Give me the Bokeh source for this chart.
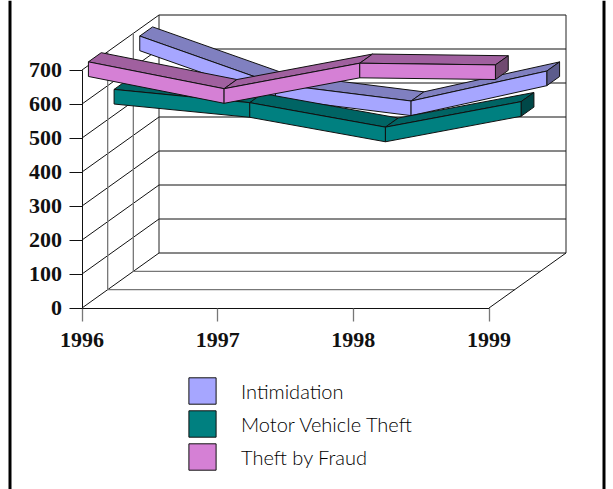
from bokeh.plotting import figure
from bokeh.models import Legend, LegendItem, FixedTicker, Range1d, Span
from bokeh.embed import file_html
from bokeh.resources import INLINE

years = [1996, 1997, 1998, 1999]
value_ticks = [0, 100, 200, 300, 400, 500, 600, 700]
intimidation = [657, 516, 466, 554]
motor_vehicle_theft = [554, 515, 443, 518]
theft_by_fraud = [689, 610, 685, 680]

series = [
    ("Intimidation", intimidation, 2, "#A6A6FF", "#8080C0", "#5C5C8C"),
    ("Motor Vehicle Theft", motor_vehicle_theft, 1, "#008080", "#006464", "#004848"),
    ("Theft by Fraud", theft_by_fraud, 0, "#D580D5", "#A0609F", "#704A70"),
]

PX_PER_YEAR = 135.67
PX_PER_UNIT = 0.34
DX = 77 / PX_PER_YEAR
DY = 55 / PX_PER_UNIT
RIBBON = 43.0
LANES = 3
BAR_DEPTH = 1 / 6


def px(year, depth):
    return year + depth * DX


def py(val, depth):
    return val + depth * DY


p = figure(
    width=613, height=489, output_backend="svg", toolbar_location=None,
    x_range=Range1d(1996 - 81.5 / PX_PER_YEAR, 1996 + 531.5 / PX_PER_YEAR),
    y_range=Range1d(-181.5 / PX_PER_UNIT, 307.5 / PX_PER_UNIT),
    min_border=0, outline_line_color=None, background_fill_color=None, border_fill_color=None,
)
p.grid.visible = False

p.add_layout(Span(location=9.5, location_units="canvas", dimension="height", line_color="#000000", line_width=3))
p.add_layout(Span(location=603.5, location_units="canvas", dimension="height", line_color="#000000", line_width=3))

x0, x1 = years[0], years[-1]
vmax = value_ticks[-1]

for v in value_ticks:
    p.line([px(x0, 0), px(x0, 1), px(x1, 1)], [py(v, 0), py(v, 1), py(v, 1)], line_color="#111111", line_width=1)
for x in (x0, x1):
    p.line([px(x, 1), px(x, 1)], [py(0, 1), py(vmax, 1)], line_color="#222222", line_width=1)
for k in (1, 2):
    d = k / LANES
    p.line([px(x0, d), px(x0, d)], [py(0, d), py(vmax, d)], line_color="#777777", line_width=1.3)
    p.line([px(x0, d), px(x1, d)], [py(0, d), py(0, d)], line_color="#777777", line_width=1.3)
p.line([px(x1, 0), px(x1, 1)], [py(0, 0), py(0, 1)], line_color="#111111", line_width=1)

fronts = {}
for name, vals, lane, front_c, top_c, side_c in series:
    d0 = (lane + 0.25) / LANES
    d1 = d0 + BAR_DEPTH
    hi = [v + RIBBON / 2 for v in vals]
    lo = [v - RIBBON / 2 for v in vals]
    tx, ty, fx, fy = [], [], [], []
    for i in range(len(years) - 1):
        a, b = years[i], years[i + 1]
        tx.append([px(a, d0), px(b, d0), px(b, d1), px(a, d1)])
        ty.append([py(hi[i], d0), py(hi[i + 1], d0), py(hi[i + 1], d1), py(hi[i], d1)])
        fx.append([px(a, d0), px(b, d0), px(b, d0), px(a, d0)])
        fy.append([py(hi[i], d0), py(hi[i + 1], d0), py(lo[i + 1], d0), py(lo[i], d0)])
    p.patches(tx, ty, fill_color=top_c, line_color="#111111", line_width=1)
    p.patches([[px(x1, d0), px(x1, d1), px(x1, d1), px(x1, d0)]],
              [[py(hi[-1], d0), py(hi[-1], d1), py(lo[-1], d1), py(lo[-1], d0)]],
              fill_color=side_c, line_color="#111111", line_width=1)
    fronts[name] = p.patches(fx, fy, fill_color=front_c, line_color="#111111", line_width=1)

p.xaxis.fixed_location = 0
p.yaxis.fixed_location = 1996
p.xaxis.ticker = FixedTicker(ticks=years)
p.yaxis.ticker = FixedTicker(ticks=value_ticks)
p.xaxis.bounds = (x0, x1)
p.yaxis.bounds = (0, vmax)
for ax in (p.xaxis[0], p.yaxis[0]):
    ax.major_label_text_font = "Liberation Serif"
    ax.major_label_text_font_style = "bold"
    ax.major_label_text_font_size = "22px"
    ax.major_label_text_color = "#111111"
    ax.axis_line_color = "#111111"
    ax.major_tick_in = 0
    ax.major_tick_out = 13
    ax.minor_tick_line_color = None
    ax.major_label_standoff = 7
p.xaxis[0].major_label_standoff = 12
p.xaxis[0].major_tick_line_color = "#777777"
p.xaxis[0].major_tick_line_width = 1.3
p.yaxis[0].major_tick_line_color = "#111111"
p.xaxis[0].major_label_overrides = {y: str(y) for y in years}

legend = Legend(
    items=[LegendItem(label=s[0], renderers=[fronts[s[0]]]) for s in series],
    location=(185, 16), orientation="vertical",
    glyph_width=34, glyph_height=33, label_standoff=22, spacing=-1, padding=0, margin=0,
    border_line_color=None, background_fill_color=None, background_fill_alpha=0,
    label_text_font="Lato Light", label_text_font_size="20px", label_text_color="#000000",
)
p.add_layout(legend, "center")

open("out.html", "w").write(file_html(p, INLINE))
